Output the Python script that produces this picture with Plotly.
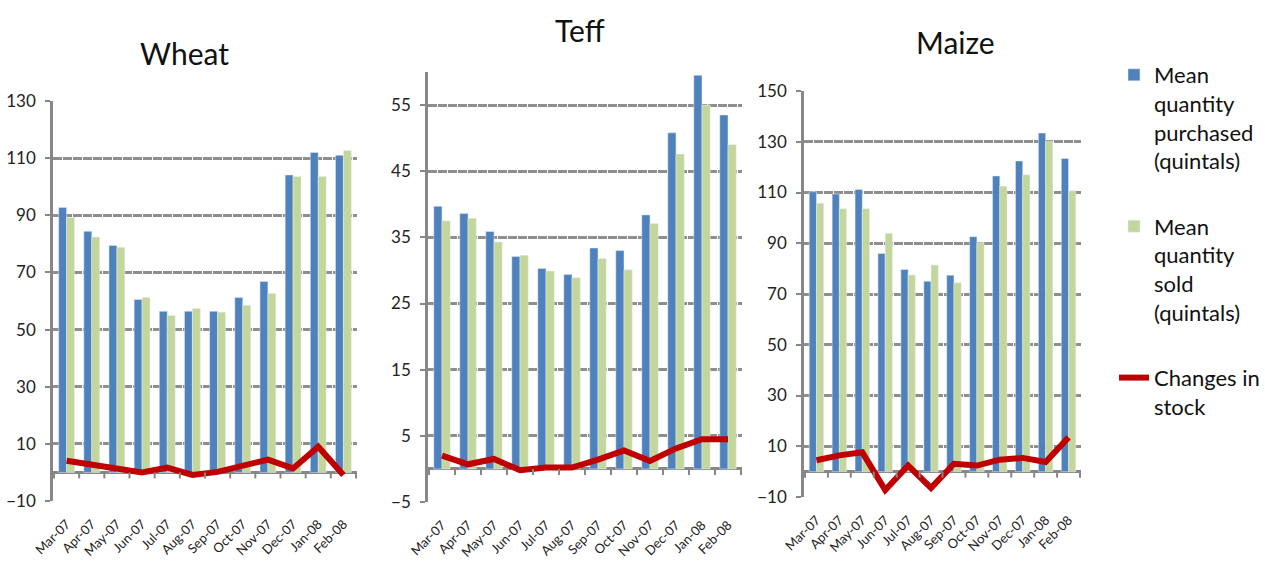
import plotly.graph_objects as go

months = ["Mar-07", "Apr-07", "May-07", "Jun-07", "Jul-07", "Aug-07",
          "Sep-07", "Oct-07", "Nov-07", "Dec-07", "Jan-08", "Feb-08"]

wheat_purchased = [92.7, 84.4, 79.4, 60.5, 56.4, 56.4, 56.4, 61.2, 66.8, 104.1, 112.0, 111.0]
wheat_sold = [89.2, 82.4, 78.8, 61.2, 54.9, 57.4, 56.1, 58.5, 62.7, 103.6, 103.6, 112.7]
wheat_stock = [4.1, 2.6, 1.2, 0.0, 1.7, -0.9, 0.2, 2.3, 4.5, 1.4, 9.0, -0.9]

teff_purchased = [39.7, 38.6, 35.9, 32.1, 30.3, 29.4, 33.4, 33.0, 38.4, 50.8, 59.5, 53.5]
teff_sold = [37.5, 37.9, 34.3, 32.3, 29.9, 28.9, 31.8, 30.1, 37.1, 47.6, 55.0, 49.0]
teff_stock = [2.0, 0.7, 1.5, -0.2, 0.2, 0.2, 1.4, 2.8, 1.2, 3.1, 4.5, 4.5]

maize_purchased = [110.3, 109.4, 111.2, 86.0, 79.7, 75.0, 77.4, 92.6, 116.5, 122.4, 133.4, 123.4]
maize_sold = [105.8, 103.6, 103.6, 93.9, 77.5, 81.4, 74.4, 90.2, 112.5, 117.0, 130.2, 110.7]
maize_stock = [4.5, 6.4, 7.6, -7.3, 2.4, -6.4, 3.1, 2.4, 4.7, 5.4, 3.8, 13.5]

titles = ["Wheat", "Teff", "Maize"]
y_ranges = [(-10, 130), (-5, 60), (-10, 150)]
y_tick0 = [-10, -5, -10]
y_dtick = [20, 10, 20]

BLUE = "#4F81BD"
GREEN = "#C3D69B"
RED = "#C00000"
AXIS = "#878787"
FONT = "Lato"

W, H = 1265, 562
# panel boxes in pixels: (left, right, top, bottom)
boxes = [(53, 357, 101, 501), (428, 742, 72, 502), (804, 1081, 91, 497)]
title_pos = [(185, 53), (580, 30), (955, 42)]

series = [
    (wheat_purchased, wheat_sold, wheat_stock),
    (teff_purchased, teff_sold, teff_stock),
    (maize_purchased, maize_sold, maize_stock),
]

fig = go.Figure()
layout = {}
shapes = []
annotations = []

for k, (purchased, sold, stock) in enumerate(series):
    sfx = "" if k == 0 else str(k + 1)
    xa, ya = "x" + sfx, "y" + sfx
    first = k == 0
    fig.add_trace(go.Bar(
        x=months, y=purchased, name="Mean<br>quantity<br>purchased<br>(quintals)",
        marker_color=BLUE, xaxis=xa, yaxis=ya, legendgroup="purchased",
        showlegend=first, offsetgroup="p"))
    fig.add_trace(go.Bar(
        x=months, y=sold, name="Mean<br>quantity<br>sold<br>(quintals)",
        marker_color=GREEN, xaxis=xa, yaxis=ya, legendgroup="sold",
        showlegend=first, offsetgroup="s"))
    fig.add_trace(go.Scatter(
        x=months, y=stock, name="Changes in<br>stock", mode="lines",
        line=dict(color=RED, width=6), xaxis=xa, yaxis=ya,
        legendgroup="stock", showlegend=first))

    left, right, top, bottom = boxes[k]
    layout["xaxis" + sfx] = dict(
        domain=[left / W, right / W], anchor=ya, type="category",
        showgrid=False, showline=False, ticks="", tickangle=-45,
        tickfont=dict(family=FONT, size=13, color="#222"),
        ticklabelstandoff=12, automargin=False, fixedrange=True)
    layout["yaxis" + sfx] = dict(
        domain=[1 - bottom / H, 1 - top / H], anchor=xa,
        range=list(y_ranges[k]), tick0=y_tick0[k], dtick=y_dtick[k],
        showgrid=True, gridcolor="#8E8E8E", gridwidth=2.5, griddash="9px,1px",
        zeroline=True, zerolinecolor=AXIS, zerolinewidth=2.5,
        showline=True, linecolor=AXIS, linewidth=2.5,
        ticks="outside", ticklen=5, tickwidth=2, tickcolor=AXIS,
        tickfont=dict(family=FONT, size=17, color="#222"),
        ticklabelstandoff=6, automargin=False, fixedrange=True)

    # short marks below the zero line at the category boundaries
    for i in range(len(months) + 1):
        shapes.append(dict(
            type="line", xref=xa, yref=ya, x0=i - 0.5, x1=i - 0.5,
            ysizemode="pixel", yanchor=0, y0=0, y1=-6,
            line=dict(color=AXIS, width=2)))

    tx, ty = title_pos[k]
    annotations.append(dict(
        text=titles[k], xref="paper", yref="paper", x=tx / W, y=1 - ty / H,
        xanchor="center", yanchor="middle", showarrow=False,
        font=dict(family=FONT, size=30, color="#111")))

fig.update_layout(
    **layout,
    width=W, height=H,
    margin=dict(l=0, r=0, t=0, b=0, autoexpand=False),
    paper_bgcolor="white", plot_bgcolor="white",
    barmode="group", bargap=0.37, bargroupgap=0,
    shapes=shapes, annotations=annotations,
    legend=dict(
        x=1114 / W, y=1 - 54 / H, xanchor="left", yanchor="top",
        font=dict(family=FONT, size=22, color="#111"),
        valign="top", tracegroupgap=34, itemwidth=30,
        bgcolor="rgba(0,0,0,0)"),
)

fig.write_html("out.html")
